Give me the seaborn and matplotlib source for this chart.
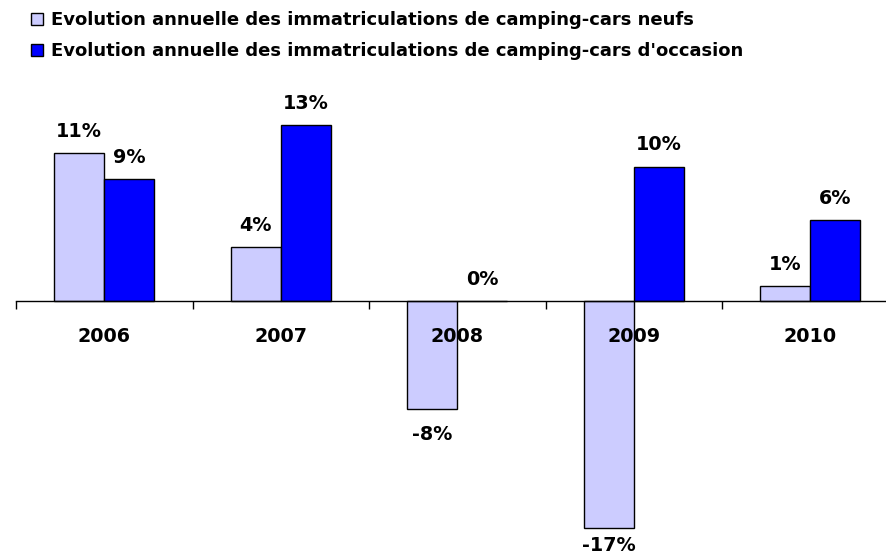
import matplotlib
matplotlib.use("Agg")
import matplotlib.pyplot as plt
import seaborn as sns
import pandas as pd
from matplotlib.patches import Patch

years = ["2006", "2007", "2008", "2009", "2010"]
neufs = [11.0, 4.0, -8.0, -16.9, 1.1]
occasion = [9.1, 13.1, 0.0, 10.0, 6.0]
labels_neufs = ["11%", "4%", "-8%", "-17%", "1%"]
labels_occasion = ["9%", "13%", "0%", "10%", "6%"]
series = ["Evolution annuelle des immatriculations de camping-cars neufs",
          "Evolution annuelle des immatriculations de camping-cars d'occasion"]
colors = ["#CCCCFF", "#0000FF"]

df = pd.DataFrame({
    "year": years * 2,
    "value": neufs + occasion,
    "series": [series[0]] * 5 + [series[1]] * 5,
    "label": labels_neufs + labels_occasion,
})

sns.set_style("white")
plt.rcParams['font.family'] = ['DejaVu Sans']
plt.rcParams['text.color'] = 'black'
plt.rcParams['xtick.color'] = 'black'
plt.rcParams['xtick.labelcolor'] = 'black'

fig = plt.figure(figsize=(8.87, 5.57), dpi=100)
W, H = 887, 557
ax = fig.add_axes([16 / W, 0, 882.5 / W, 477 / H])

sns.barplot(data=df, x="year", y="value", hue="series", order=years,
            hue_order=series, palette=colors, width=0.567, edgecolor="black",
            linewidth=1.0, ax=ax, legend=False, saturation=1)

PX = 13.45  # pixels per percent
ymin = -(557 - 301) / PX
ax.set_xlim(-0.5, 4.5)
ax.set_ylim(ymin, (301 - 80) / PX)

for p in ax.patches:
    p.set_zorder(1)
ax.xaxis.set_zorder(3)

FS = 13.8
# value labels
for cont, labs in zip(ax.containers, [labels_neufs, labels_occasion]):
    for bar, lab in zip(cont, labs):
        x = bar.get_x() + bar.get_width() / 2
        v = bar.get_height()
        if v >= 0:
            y = v + 16 / PX
        else:
            y = max(v - 31 / PX, ymin + 6 / PX)
        ax.text(x, y, lab, ha="center", va="baseline", fontsize=FS,
                fontweight="bold", color="black", zorder=4)

for s in ["top", "right", "left"]:
    ax.spines[s].set_visible(False)
ax.spines["bottom"].set_position(("data", 0))
ax.spines["bottom"].set_color("black")
ax.spines["bottom"].set_linewidth(1.0)
ax.set_yticks([])
ax.set_xlabel("")
ax.set_ylabel("")
ax.set_xticks(range(5))
ax.set_xticklabels(years, fontsize=FS, fontweight="bold", color="black")
ax.tick_params(axis="x", which="major", length=0, pad=19)
ax.set_xticks([i - 0.5 for i in range(6)], minor=True)
ax.tick_params(axis="x", which="minor", bottom=True, length=6, width=1.0,
               direction="out", color="black")

handles = [Patch(facecolor=c, edgecolor="black", linewidth=1.0) for c in colors]
fig.legend(handles, series, loc="upper left", bbox_to_anchor=(31 / W, 1 - 11 / H),
           frameon=False, prop={"weight": "bold", "size": 13.0},
           handlelength=0.65, handleheight=0.65, handletextpad=0.45,
           labelspacing=0.72, borderpad=0, borderaxespad=0)

fig.savefig("out.png", dpi=100)
